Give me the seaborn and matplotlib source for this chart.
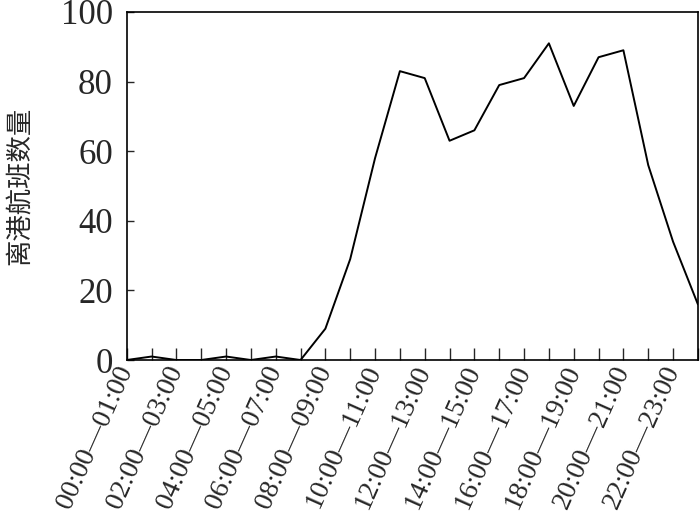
import seaborn as sns
import matplotlib.pyplot as plt
import pandas as pd

# hourly departures
hours = ['%02d:00—%02d:00' % (h, h + 1) for h in range(24)]
flights = [0, 1, 0, 0, 1, 0, 1, 0, 9, 29, 58, 83, 81, 63, 66, 79, 81, 91, 73, 87, 89, 56, 34, 16]

df = pd.DataFrame({'idx': range(24), 'hour': hours, 'flights': flights})

sns.set_style('ticks')
plt.rcParams['font.family'] = ['Liberation Serif', 'Noto Sans CJK SC']

fig = plt.figure(figsize=(7, 5.21), dpi=100)
ax = fig.add_axes([0.181, 0.309, 0.816, 0.668])

sns.lineplot(x='idx', y='flights', data=df, color='black', linewidth=1.4, ax=ax)

ax.set_xlim(0, 23)
ax.set_ylim(0, 100)
ax.set_xticks(range(24))
ax.set_xticklabels([h if i % 2 == 0 else '' for i, h in enumerate(hours)],
                   rotation=66, ha='right', va='center', rotation_mode='anchor', fontsize=20)
ax.set_yticks([0, 20, 40, 60, 80, 100])
ax.tick_params(axis='y', labelsize=25, direction='in', length=5, width=1, pad=10)
ax.tick_params(axis='x', direction='in', length=9, width=1, pad=5)
for s in ax.spines.values():
    s.set_linewidth(1.2)
    s.set_color('black')

ax.set_xlabel('')
ax.set_ylabel('离港航班数量', fontsize=19, family='Noto Sans CJK SC', labelpad=20)

fig.savefig('out.png', dpi=100)
